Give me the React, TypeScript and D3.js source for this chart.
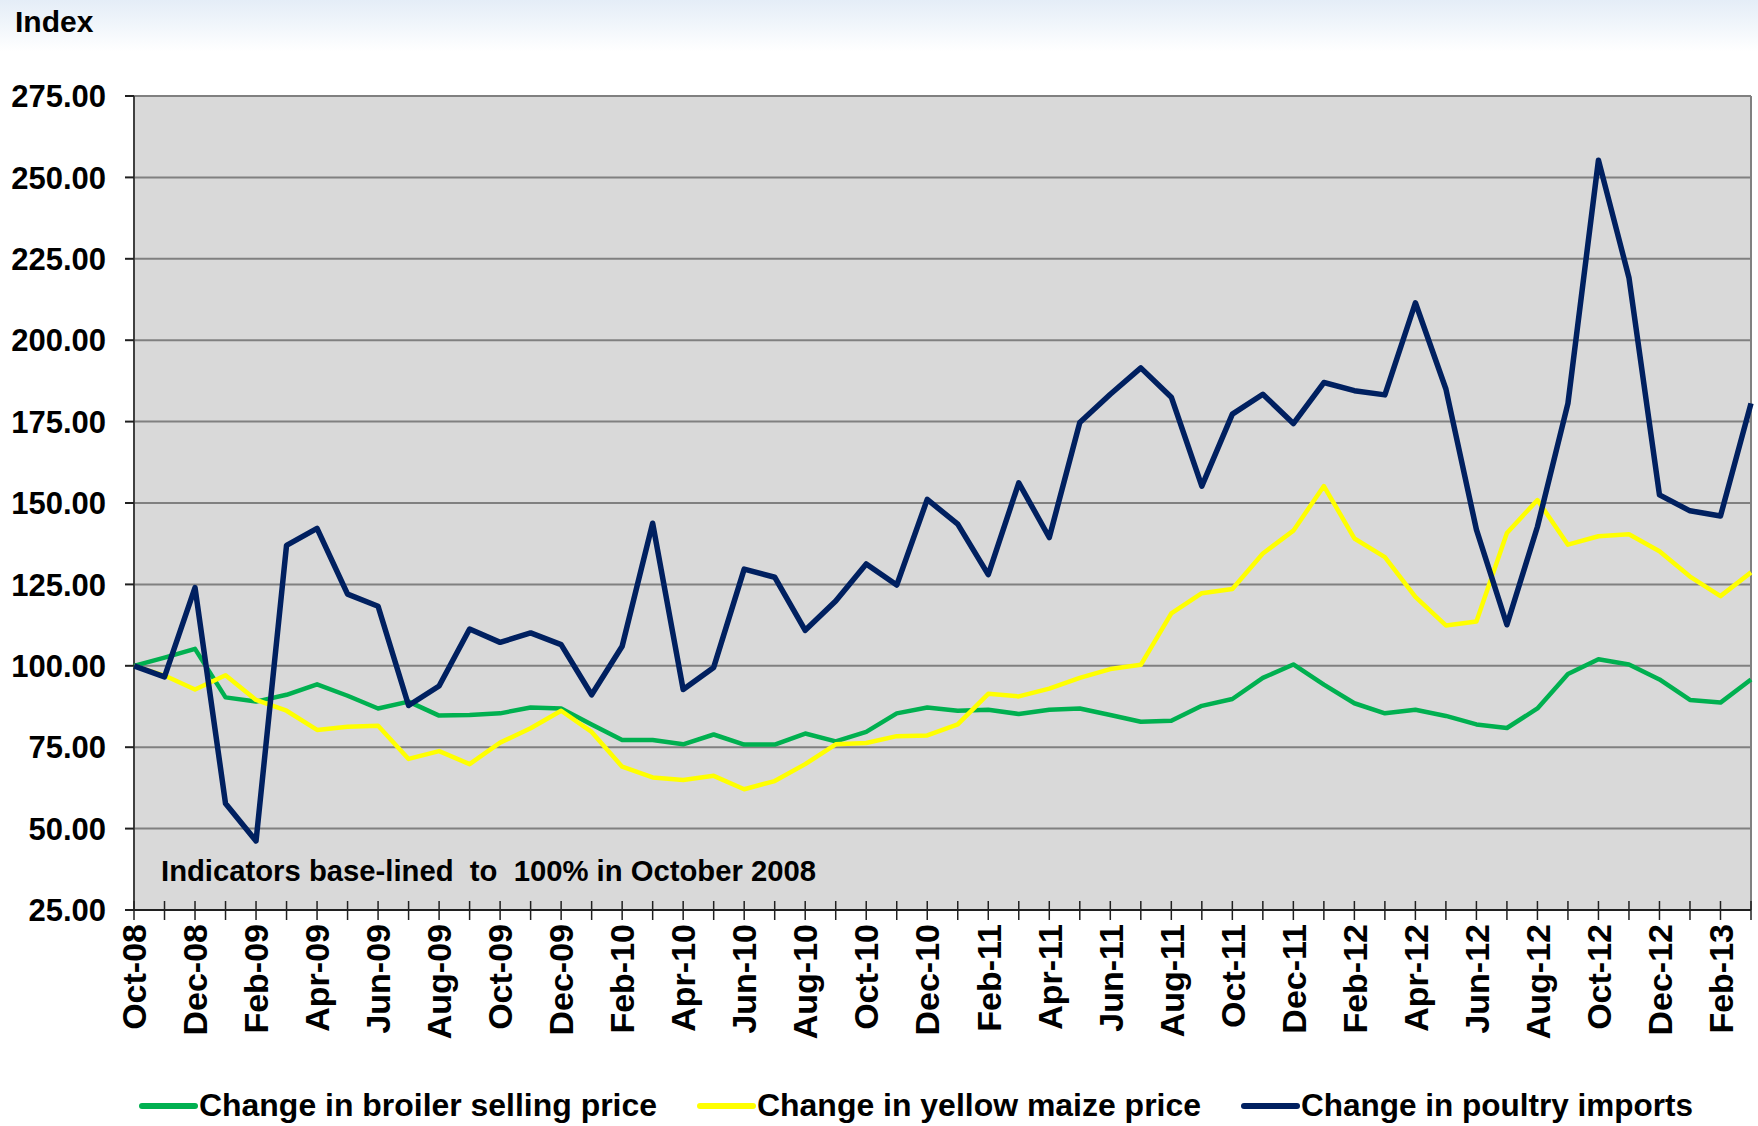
import React from "react";
import * as d3 from "d3";

const months = [
  "Oct-08", "Nov-08", "Dec-08", "Jan-09", "Feb-09", "Mar-09", "Apr-09", "May-09", "Jun-09",
  "Jul-09", "Aug-09", "Sep-09", "Oct-09", "Nov-09", "Dec-09", "Jan-10", "Feb-10", "Mar-10",
  "Apr-10", "May-10", "Jun-10", "Jul-10", "Aug-10", "Sep-10", "Oct-10", "Nov-10", "Dec-10",
  "Jan-11", "Feb-11", "Mar-11", "Apr-11", "May-11", "Jun-11", "Jul-11", "Aug-11", "Sep-11",
  "Oct-11", "Nov-11", "Dec-11", "Jan-12", "Feb-12", "Mar-12", "Apr-12", "May-12", "Jun-12",
  "Jul-12", "Aug-12", "Sep-12", "Oct-12", "Nov-12", "Dec-12", "Jan-13", "Feb-13", "Mar-13",
];

const broilerPrice = [
  100, 102.5, 105.2, 90.3, 89, 91.1, 94.3, 90.8, 86.9, 89, 84.7, 84.9, 85.4, 87.2, 86.9, 82,
  77.2, 77.2, 75.9, 78.9, 75.8, 75.8, 79.2, 76.8, 79.7, 85.4, 87.2, 86.2, 86.5, 85.2, 86.5,
  86.9, 84.9, 82.8, 83.1, 87.7, 89.8, 96.3, 100.4, 94.2, 88.5, 85.4, 86.5, 84.6, 82, 80.9,
  86.9, 97.5, 102, 100.4, 95.8, 89.5, 88.7, 95.8,
];

const maizePrice = [
  100, 97, 92.7, 97.1, 89.5, 86.2, 80.3, 81.3, 81.6, 71.4, 73.8, 69.8, 76.4, 80.8, 86.2, 79.7,
  69, 65.7, 64.9, 66.2, 62.1, 64.6, 69.8, 75.9, 76.3, 78.4, 78.6, 82, 91.4, 90.6, 93, 96.3, 99,
  100.3, 116.1, 122.3, 123.6, 134.5, 141.5, 155.2, 139.1, 133.4, 121.2, 112.4, 113.6, 140.8,
  150.9, 137.2, 139.8, 140.4, 135.2, 127.4, 121.4, 128.7,
];

const poultryImports = [
  100, 96.6, 124, 57.7, 46.2, 137, 142.2, 122, 118.3, 87.8, 93.8, 111.3, 107.2, 110.1, 106.5,
  91.1, 106, 143.8, 92.7, 99.5, 129.7, 127.2, 110.9, 119.9, 131.3, 124.8, 151.1, 143.5, 128,
  156.2, 139.4, 174.7, 183.4, 191.5, 182.5, 155.2, 177.3, 183.4, 174.4, 187, 184.5, 183.2,
  211.5, 185, 141.8, 112.6, 142.7, 180.6, 255.3, 219.2, 152.5, 147.6, 146, 180.6,
];

const yTicks = [25, 50, 75, 100, 125, 150, 175, 200, 225, 250, 275];

const seriesNames = [
  "Change in broiler selling price",
  "Change in yellow maize price",
  "Change in poultry imports",
];

const FONT = "'Liberation Sans', Arial, sans-serif";

const appendLine = (selection, xScale, yScale, values, color, width) => {
  selection
    .append("path")
    .datum(values)
    .attr("fill", "none")
    .attr("stroke", color)
    .attr("stroke-width", width)
    .attr("stroke-linejoin", "round")
    .attr("d", d3.line<number>()
      .x((d, i) => xScale(months[i]))
      .y(d => yScale(d)));
};

const App = () => {
  const ref = React.useRef<SVGSVGElement>(null);
  const dim = { x: 1758, y: 1126 };
  const plot = { left: 134, right: 1751, top: 96, bottom: 910 };

  React.useEffect(() => {
    document.body.style.margin = "0";
    const svg = d3.select(ref.current);
    svg.selectAll("*").remove();

    const xScale = d3.scalePoint(months, [plot.left, plot.right]);
    const yScale = d3.scaleLinear([25, 275], [plot.bottom, plot.top]);

    // light header band
    const grad = svg.append("defs").append("linearGradient")
      .attr("id", "hdr").attr("x1", 0).attr("y1", 0).attr("x2", 0).attr("y2", 1);
    grad.append("stop").attr("offset", "0%").attr("stop-color", "#e4edf7");
    grad.append("stop").attr("offset", "100%").attr("stop-color", "#ffffff");
    svg.append("rect").attr("width", dim.x).attr("height", dim.y).attr("fill", "#fff");
    svg.append("rect").attr("width", dim.x).attr("height", 52).attr("fill", "url(#hdr)");

    svg.append("text")
      .attr("x", 15).attr("y", 32)
      .attr("font-family", FONT).attr("font-weight", "bold").attr("font-size", 30)
      .text("Index");

    // plot area + grid
    svg.append("rect")
      .attr("x", plot.left).attr("y", plot.top)
      .attr("width", plot.right - plot.left).attr("height", plot.bottom - plot.top)
      .attr("fill", "#d9d9d9");

    svg.append("g")
      .selectAll("line")
      .data(yTicks.slice(1))
      .join("line")
      .attr("x1", plot.left).attr("x2", plot.right)
      .attr("y1", d => yScale(d)).attr("y2", d => yScale(d))
      .attr("stroke", "#808080").attr("stroke-width", 2);

    svg.append("line")
      .attr("x1", plot.right).attr("x2", plot.right)
      .attr("y1", plot.top).attr("y2", plot.bottom)
      .attr("stroke", "#808080").attr("stroke-width", 2);

    // y axis
    const yAxis = svg.append("g");
    yAxis.append("line")
      .attr("x1", plot.left).attr("x2", plot.left)
      .attr("y1", plot.top).attr("y2", plot.bottom)
      .attr("stroke", "#404040").attr("stroke-width", 2);
    yAxis.selectAll("line.tick")
      .data(yTicks)
      .join("line")
      .attr("class", "tick")
      .attr("x1", plot.left - 9).attr("x2", plot.left)
      .attr("y1", d => yScale(d)).attr("y2", d => yScale(d))
      .attr("stroke", "#202020").attr("stroke-width", 2);
    yAxis.selectAll("text")
      .data(yTicks)
      .join("text")
      .attr("x", 106)
      .attr("y", d => yScale(d))
      .attr("dy", "0.36em")
      .attr("text-anchor", "end")
      .attr("font-family", FONT).attr("font-weight", "bold").attr("font-size", 31)
      .text(d => d.toFixed(2));

    // annotation
    svg.append("text")
      .attr("x", 161).attr("y", 881)
      .attr("font-family", FONT).attr("font-weight", "bold").attr("font-size", 29)
      .attr("textLength", 655).attr("lengthAdjust", "spacingAndGlyphs")
      .style("white-space", "pre")
      .text("Indicators base-lined  to  100% in October 2008");

    // series
    appendLine(svg, xScale, yScale, broilerPrice, "#00b050", 4.5);
    appendLine(svg, xScale, yScale, maizePrice, "#ffff00", 4.5);
    appendLine(svg, xScale, yScale, poultryImports, "#002060", 5.5);

    // x axis
    const xAxis = svg.append("g");
    xAxis.append("line")
      .attr("x1", plot.left).attr("x2", plot.right)
      .attr("y1", plot.bottom).attr("y2", plot.bottom)
      .attr("stroke", "#202020").attr("stroke-width", 2);
    xAxis.selectAll("line.tick")
      .data(months)
      .join("line")
      .attr("class", "tick")
      .attr("x1", d => xScale(d)).attr("x2", d => xScale(d))
      .attr("y1", plot.bottom - 9).attr("y2", plot.bottom + 10)
      .attr("stroke", "#202020").attr("stroke-width", 1.5);
    xAxis.selectAll("text")
      .data(months.filter((m, i) => i % 2 === 0))
      .join("text")
      .attr("transform", d => `translate(${xScale(d)},${plot.bottom + 14}) rotate(-90)`)
      .attr("dy", "0.36em")
      .attr("text-anchor", "end")
      .attr("font-family", FONT).attr("font-weight", "bold").attr("font-size", 34)
      .text(d => d);

    // legend
    const legend = [
      { name: seriesNames[0], color: "#00b050", x: 142, len: 458 },
      { name: seriesNames[1], color: "#ffff00", x: 700, len: 444 },
      { name: seriesNames[2], color: "#002060", x: 1244, len: 392 },
    ];
    const lg = svg.append("g").selectAll("g").data(legend).join("g");
    lg.append("line")
      .attr("x1", d => d.x).attr("x2", d => d.x + 53)
      .attr("y1", 1106).attr("y2", 1106)
      .attr("stroke", d => d.color).attr("stroke-width", 6)
      .attr("stroke-linecap", "round");
    lg.append("text")
      .attr("x", d => d.x + 57).attr("y", 1116)
      .attr("font-family", FONT).attr("font-weight", "bold").attr("font-size", 32)
      .attr("textLength", d => d.len).attr("lengthAdjust", "spacingAndGlyphs")
      .text(d => d.name);
  }, []);

  return <svg width={dim.x} height={dim.y} ref={ref} style={{ display: "block" }} />;
};

export default App;
